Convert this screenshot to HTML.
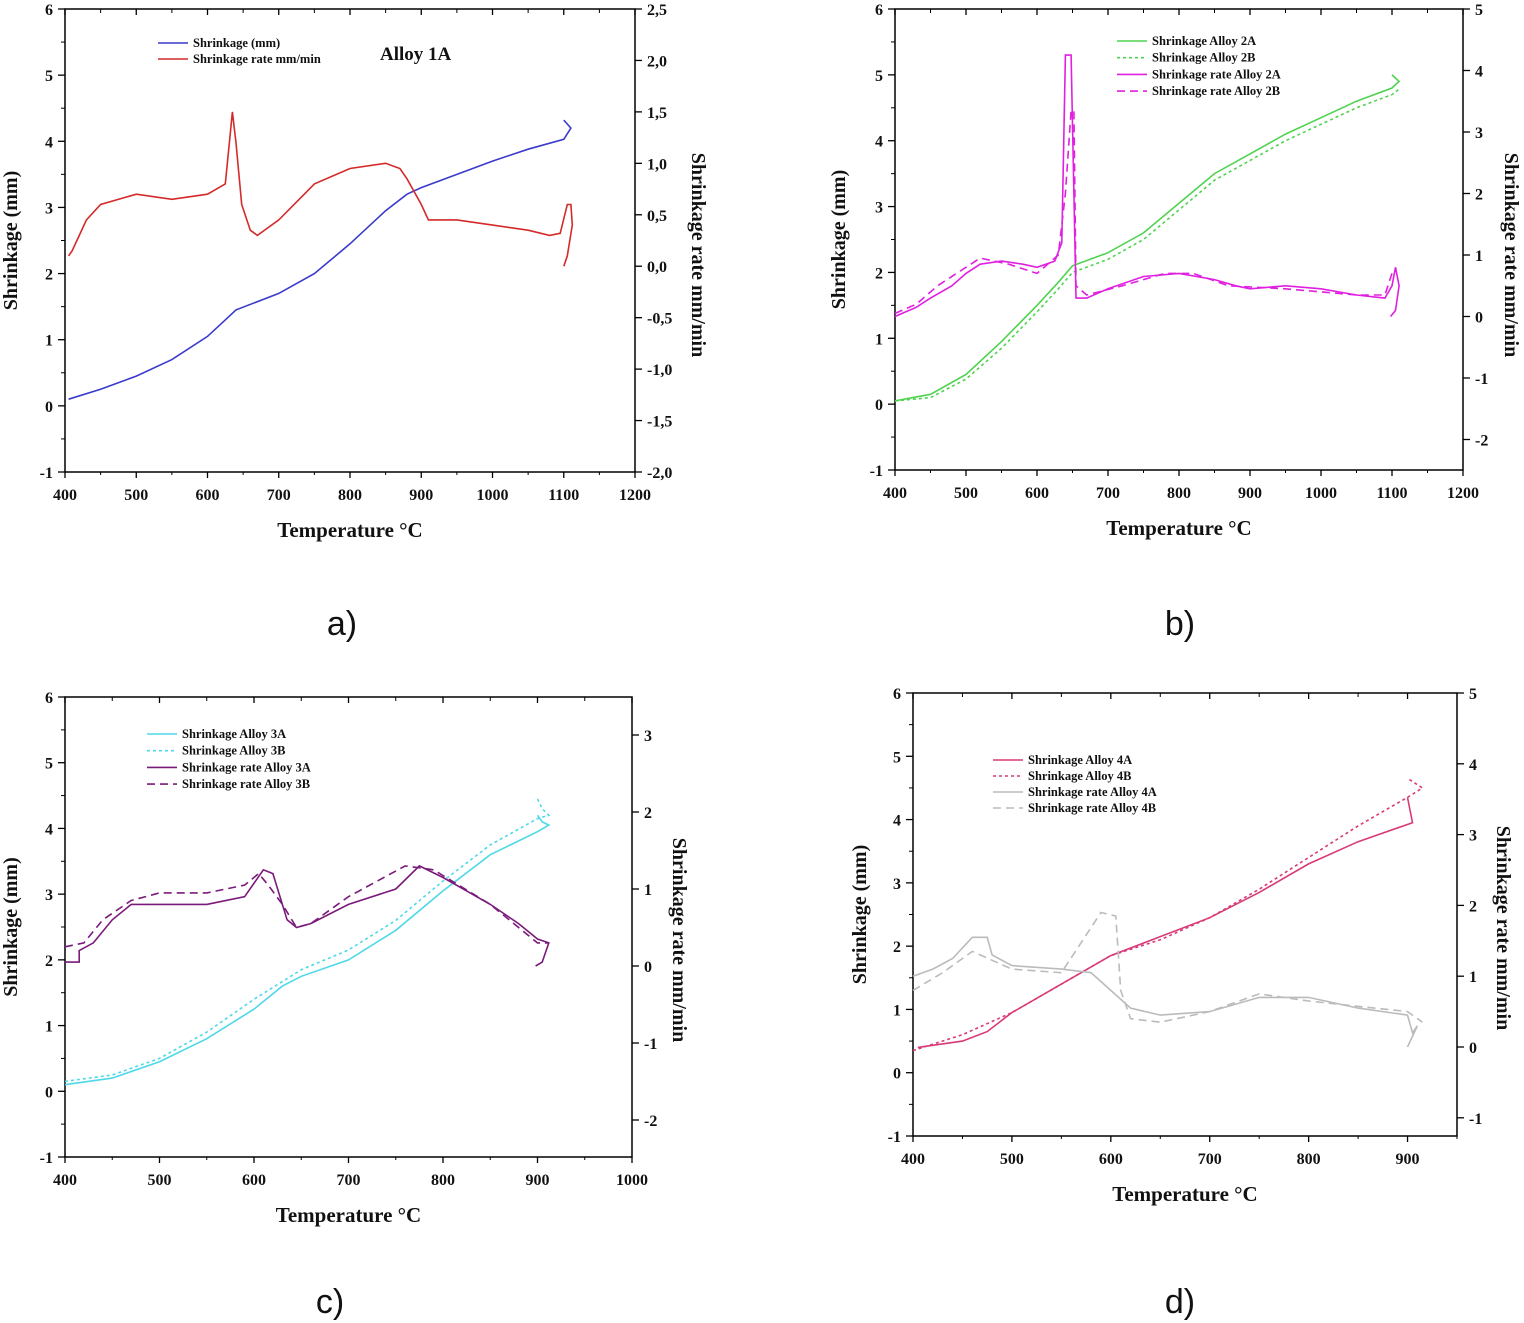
<!DOCTYPE html>
<html><head><meta charset="utf-8">
<style>
html,body{margin:0;padding:0;background:#fff;}
svg{display:block;}
text{font-family:"Liberation Serif",serif;font-weight:bold;fill:#111;}
.lab{font-family:"Liberation Sans",sans-serif;font-weight:normal;font-size:34px;}
</style></head>
<body>
<svg id="fig" width="1524" height="1323" viewBox="0 0 1524 1323" xmlns="http://www.w3.org/2000/svg">
<text class="lab" x="342" y="635" text-anchor="middle">a)</text>
<text class="lab" x="1180" y="635" text-anchor="middle">b)</text>
<text class="lab" x="330" y="1313" text-anchor="middle">c)</text>
<text class="lab" x="1180" y="1313" text-anchor="middle">d)</text>
</svg>
<script>
// ---- data ----
const aShrinkT=[405,450,500,550,600,630,640,700,750,800,850,880,900,950,1000,1050,1100,1110,1100];
const aShrinkV=[0.1,0.25,0.45,0.7,1.05,1.35,1.45,1.7,2.0,2.45,2.95,3.2,3.3,3.5,3.7,3.88,4.03,4.2,4.32];
const aRateT=[405,410,420,430,450,500,550,600,625,635,640,648,660,670,700,750,800,850,870,880,900,910,950,1000,1050,1080,1095,1105,1110,1112,1105,1100];
const aRateV=[0.1,0.15,0.3,0.45,0.6,0.7,0.65,0.7,0.8,1.5,1.2,0.6,0.35,0.3,0.45,0.8,0.95,1.0,0.95,0.85,0.6,0.45,0.45,0.4,0.35,0.3,0.32,0.6,0.6,0.4,0.1,0.0];

const b2AT=[400,450,500,550,600,630,650,700,750,800,850,900,950,1000,1050,1100,1110,1100];
const b2AV=[0.05,0.15,0.45,0.95,1.5,1.85,2.1,2.3,2.6,3.05,3.5,3.8,4.1,4.35,4.6,4.8,4.9,5.0];
const b2BT=[400,450,500,550,600,630,650,700,750,800,850,900,950,1000,1050,1100,1112];
const b2BV=[0.05,0.1,0.38,0.85,1.4,1.75,2.0,2.2,2.5,2.95,3.4,3.7,4.0,4.25,4.5,4.7,4.8];
const bR2AT=[400,410,430,450,480,500,520,550,580,600,625,635,640,648,652,655,670,700,750,800,850,880,900,950,1000,1050,1090,1100,1105,1110,1105,1098];
const bR2AV=[0.0,0.05,0.15,0.3,0.5,0.7,0.85,0.9,0.85,0.8,0.9,1.2,4.25,4.25,2.0,0.3,0.3,0.45,0.65,0.7,0.6,0.5,0.45,0.5,0.45,0.35,0.3,0.5,0.8,0.5,0.1,0.0];
const bR2BT=[400,430,460,500,520,560,600,630,640,648,652,655,670,720,780,820,870,950,1050,1090,1100];
const bR2BV=[0.05,0.2,0.5,0.8,0.95,0.85,0.7,1.0,2.0,3.35,3.35,0.5,0.35,0.5,0.7,0.7,0.5,0.45,0.35,0.35,0.7];

const c3AT=[400,450,500,550,600,630,650,700,750,800,850,900,912,905,900];
const c3AV=[0.1,0.2,0.45,0.8,1.25,1.6,1.75,2.0,2.45,3.05,3.6,3.95,4.05,4.1,4.2];
const c3BT=[400,450,500,550,600,650,700,750,800,850,900,912,905,900];
const c3BV=[0.15,0.25,0.5,0.9,1.4,1.85,2.15,2.6,3.2,3.75,4.15,4.2,4.3,4.45];
const cR3AT=[400,415,415,430,450,470,500,550,590,610,620,635,645,660,700,750,775,800,850,880,900,912,905,898];
const cR3AV=[0.05,0.05,0.2,0.3,0.6,0.8,0.8,0.8,0.9,1.25,1.2,0.6,0.5,0.55,0.8,1.0,1.3,1.15,0.8,0.55,0.35,0.3,0.05,0.0];
const cR3BT=[400,420,440,470,500,550,590,605,615,630,645,660,700,760,790,850,900,912];
const cR3BV=[0.25,0.3,0.6,0.85,0.95,0.95,1.05,1.2,1.05,0.8,0.5,0.55,0.9,1.3,1.25,0.8,0.3,0.3];

const d4AT=[405,450,475,500,550,600,650,700,750,800,850,905,900];
const d4AV=[0.4,0.5,0.65,0.95,1.4,1.85,2.15,2.45,2.85,3.3,3.65,3.95,4.35];
const d4BT=[400,420,450,500,550,600,650,700,750,800,850,900,915,900];
const d4BV=[0.35,0.45,0.6,0.95,1.4,1.85,2.1,2.45,2.9,3.4,3.9,4.35,4.5,4.65];
const dR4AT=[400,420,440,460,475,480,500,550,580,600,620,650,700,750,800,850,900,905,910,900];
const dR4AV=[1.0,1.1,1.25,1.55,1.55,1.3,1.15,1.1,1.05,0.8,0.55,0.45,0.5,0.7,0.7,0.55,0.45,0.2,0.3,0.0];
const dR4BT=[400,430,460,500,550,590,605,610,620,650,700,750,800,900,915];
const dR4BV=[0.8,1.05,1.35,1.1,1.05,1.9,1.85,0.8,0.4,0.35,0.5,0.75,0.65,0.5,0.35];

const svg=document.getElementById('fig');
const NS='http://www.w3.org/2000/svg';
function mk(tag,attrs,parent){const e=document.createElementNS(NS,tag);for(const k in attrs)e.setAttribute(k,attrs[k]);(parent||svg).appendChild(e);return e;}
function txt(s,attrs,parent){const e=mk('text',attrs,parent);e.textContent=s;return e;}

function panel(p){
  const g=mk('g',{});
  
  
  const X=t=>p.x0+(t-p.t0)*(p.x1-p.x0)/(p.t1-p.t0);
  const YL=v=>p.yTop+(p.lMax-v)*(p.yBot-p.yTop)/(p.lMax-p.lMin);
  const YR=v=>p.rTop+(p.rTopV-v)*p.rPer;
  const frame=mk('rect',{x:p.x0,y:p.yTop,width:p.x1-p.x0,height:p.yBot-p.yTop,fill:'none',stroke:'#000','stroke-width':1.5},g);
  
  for(let t=p.t0;t<=p.t1;t+=p.xStep){
    const x=X(t);
    mk('line',{x1:x,y1:p.yBot,x2:x,y2:p.yBot+6,stroke:'#000','stroke-width':1.3},g);
    mk('line',{x1:x,y1:p.yTop,x2:x,y2:p.yTop+6,stroke:'#000','stroke-width':1.3},g);
    if(t+p.xStep/2<=p.t1){const xm=X(t+p.xStep/2);mk('line',{x1:xm,y1:p.yBot,x2:xm,y2:p.yBot+3,stroke:'#000'},g);mk('line',{x1:xm,y1:p.yTop,x2:xm,y2:p.yTop+4,stroke:'#000'},g);}
    const tl=txt(String(t),{x:x,y:p.yBot+28,'text-anchor':'middle','font-size':16},g);
    
  }
  for(let v=p.lMin;v<=p.lMax;v++){
    const y=YL(v);
    mk('line',{x1:p.x0-7,y1:y,x2:p.x0,y2:y,stroke:'#000','stroke-width':1.3},g);
    if(v<p.lMax){const ym=YL(v+0.5);mk('line',{x1:p.x0-4,y1:ym,x2:p.x0,y2:ym,stroke:'#000'},g);}
    const tl=txt(String(v),{x:p.x0-12,y:y+6,'text-anchor':'end','font-size':16},g);
    
  }
  p.rTicks.forEach((v,i)=>{
    const y=YR(v);
    mk('line',{x1:p.x1,y1:y,x2:p.x1+7,y2:y,stroke:'#000','stroke-width':1.3},g);
    const tl=txt(p.rLabels[i],{x:p.x1+12,y:y+6,'text-anchor':'start','font-size':16},g);
    
  });
  const xt=txt('Temperature °C',{x:(p.x0+p.x1)/2,y:p.yBot+65,'text-anchor':'middle','font-size':21},g);
  
  const ly=(p.yTop+p.yBot)/2;
  const yt=txt('Shrinkage (mm)',{x:0,y:0,'text-anchor':'middle','font-size':20,transform:`translate(${p.lTitleX},${ly}) rotate(-90)`},g);
  
  const rt=txt('Shrinkage rate mm/min',{x:0,y:0,'text-anchor':'middle','font-size':20,transform:`translate(${p.rTitleX},${p.rTitleY}) rotate(90)`},g);
  
  p.series.forEach(s=>{
    const Y=s.right?YR:YL;
    const d=s.t.map((t,i)=>(i?'L':'M')+X(t).toFixed(1)+','+Y(s.v[i]).toFixed(1)).join('');
    const path=mk('path',{d:d,fill:'none',stroke:s.c,'stroke-width':1.6,'stroke-dasharray':s.dash||'none'},g);
    
    
  });
  p.series.forEach((s,i)=>{
    const y=p.legY+i*p.legDy;
    mk('line',{x1:p.legX,y1:y,x2:p.legX+30,y2:y,stroke:s.c,'stroke-width':1.6,'stroke-dasharray':s.dash||'none'},g);
    const lt=txt(s.label,{x:p.legX+35,y:y+4,'font-size':12.5},g);
    
  });
}

panel({name:'chart-a',x0:65,x1:635,t0:400,t1:1200,xStep:100,yTop:9,yBot:472,lMin:-1,lMax:6,
  rTop:9,rTopV:2.5,rPer:463/4.5,
  rTicks:[2.5,2,1.5,1,0.5,0,-0.5,-1,-1.5,-2],rLabels:['2,5','2,0','1,5','1,0','0,5','0,0','-0,5','-1,0','-1,5','-2,0'],
  lTitleX:17,rTitleX:692,rTitleY:255,legX:158,legY:43,legDy:16,
  series:[{id:'shrinkage-line',t:aShrinkT,v:aShrinkV,c:'#3a3acc',label:'Shrinkage (mm)'},
          {id:'shrinkage-rate-line',t:aRateT,v:aRateV,c:'#d42a2a',right:true,label:'Shrinkage rate mm/min'}]});
panel({name:'chart-b',x0:895,x1:1463,t0:400,t1:1200,xStep:100,yTop:9,yBot:470,lMin:-1,lMax:6,
  rTop:9,rTopV:5,rPer:61.5,
  rTicks:[5,4,3,2,1,0,-1,-2],rLabels:['5','4','3','2','1','0','-1','-2'],
  lTitleX:845,rTitleX:1505,rTitleY:255,legX:1117,legY:41,legDy:16.7,
  series:[{id:'shrinkage-2a',t:b2AT,v:b2AV,c:'#4fd34f',label:'Shrinkage Alloy 2A'},
          {id:'shrinkage-2b',t:b2BT,v:b2BV,c:'#4fd34f',dash:'3,3',label:'Shrinkage Alloy 2B'},
          {id:'rate-2a',t:bR2AT,v:bR2AV,c:'#e020e0',right:true,label:'Shrinkage rate Alloy 2A'},
          {id:'rate-2b',t:bR2BT,v:bR2BV,c:'#e020e0',right:true,dash:'8,5',label:'Shrinkage rate Alloy 2B'}]});
panel({name:'chart-c',x0:65,x1:632,t0:400,t1:1000,xStep:100,yTop:697,yBot:1157,lMin:-1,lMax:6,
  rTop:735,rTopV:3,rPer:77,
  rTicks:[3,2,1,0,-1,-2],rLabels:['3','2','1','0','-1','-2'],
  lTitleX:17,rTitleX:673,rTitleY:940,legX:147,legY:734,legDy:16.7,
  series:[{id:'shrinkage-3a',t:c3AT,v:c3AV,c:'#4fd8e8',label:'Shrinkage Alloy 3A'},
          {id:'shrinkage-3b',t:c3BT,v:c3BV,c:'#4fd8e8',dash:'3,3',label:'Shrinkage Alloy 3B'},
          {id:'rate-3a',t:cR3AT,v:cR3AV,c:'#7a1a7a',right:true,label:'Shrinkage rate Alloy 3A'},
          {id:'rate-3b',t:cR3BT,v:cR3BV,c:'#7a1a7a',right:true,dash:'8,5',label:'Shrinkage rate  Alloy 3B'}]});
panel({name:'chart-d',x0:913,x1:1457,t0:400,t1:950,xStep:100,yTop:693,yBot:1136,lMin:-1,lMax:6,
  rTop:693,rTopV:5,rPer:70.8,
  rTicks:[5,4,3,2,1,0,-1],rLabels:['5','4','3','2','1','0','-1'],
  lTitleX:866,rTitleX:1497,rTitleY:928,legX:993,legY:760,legDy:16,
  series:[{id:'shrinkage-4a',t:d4AT,v:d4AV,c:'#d83a78',label:'Shrinkage Alloy 4A'},
          {id:'shrinkage-4b',t:d4BT,v:d4BV,c:'#d83a78',dash:'3,3',label:'Shrinkage Alloy 4B'},
          {id:'rate-4a',t:dR4AT,v:dR4AV,c:'#bbbbbb',right:true,label:'Shrinkage rate Alloy 4A'},
          {id:'rate-4b',t:dR4BT,v:dR4BV,c:'#bbbbbb',right:true,dash:'8,5',label:'Shrinkage rate  Alloy 4B'}]});
const title=txt('Alloy 1A',{x:380,y:60,'font-size':19});


</script>
</body></html>
